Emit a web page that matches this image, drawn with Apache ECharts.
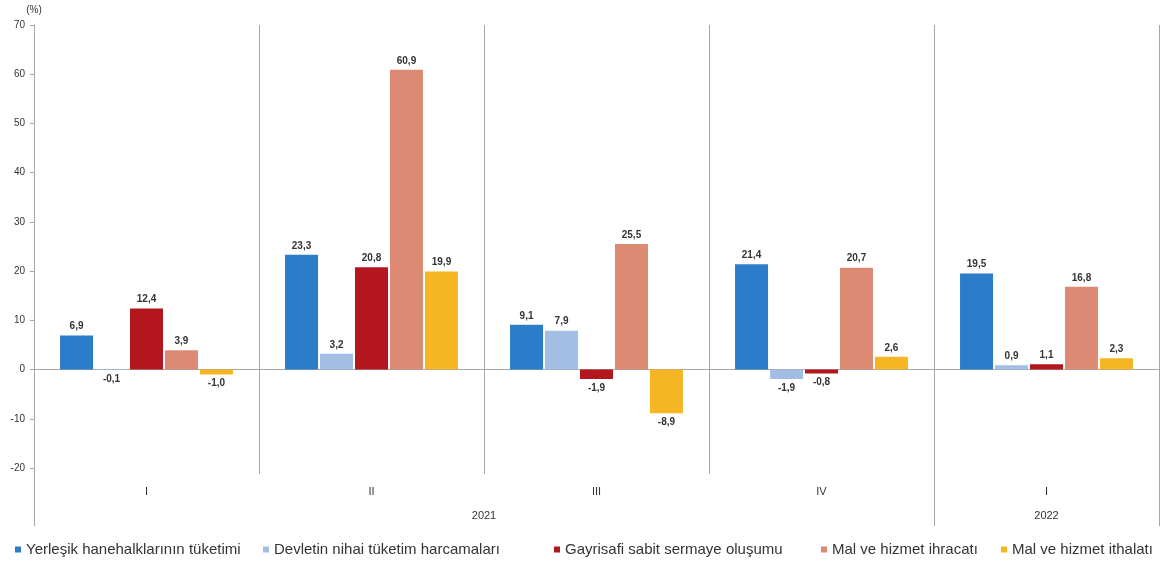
<!DOCTYPE html>
<html><head><meta charset="utf-8">
<script src="https://cdn.jsdelivr.net/npm/echarts@6/dist/echarts.min.js"></script>
<style>html,body{margin:0;padding:0;background:#fff}#c{width:1162px;height:564px}</style>
</head><body><div id="c"></div>
<script>
const quarters = ['I', 'II', 'III', 'IV', 'I'];
const years = ['2021', '2022'];
const yearSpan = [4, 1];
const seriesNames = ['Yerleşik hanehalklarının tüketimi', 'Devletin nihai tüketim harcamaları', 'Gayrisafi sabit sermaye oluşumu', 'Mal ve hizmet ihracatı', 'Mal ve hizmet ithalatı'];
const hanehalki = [6.9, 23.3, 9.1, 21.4, 19.5];
const devlet = [-0.1, 3.2, 7.9, -1.9, 0.9];
const gsso = [12.4, 20.8, -1.9, -0.8, 1.1];
const ihracat = [3.9, 60.9, 25.5, 20.7, 16.8];
const ithalat = [-1.0, 19.9, -8.9, 2.6, 2.3];
const yTicks = [-20, 70, 10];

const colors = ['#2b7cc9', '#a2bee4', '#b3161d', '#dd8a74', '#f6b523'];
const values = [hanehalki, devlet, gsso, ihracat, ithalat];
const legendLeft = [10, 258, 549, 816, 996];

// year axis built from years/yearSpan: half-category points
const yearAxisData = [];
const yearTickIdx = [0];
let pos = 0;
const totalHalf = quarters.length * 2;
for (let i = 0; i <= totalHalf; i++) yearAxisData.push('');
years.forEach((y, i) => {
  yearAxisData[pos + yearSpan[i]] = y;
  pos += yearSpan[i] * 2;
  yearTickIdx.push(pos);
});

const chart = echarts.init(document.getElementById('c'));
const font = 'Liberation Sans, Arial, sans-serif';
chart.setOption({
  animation: false,
  textStyle: { fontFamily: font },
  grid: { left: 34, right: 2, top: 25, bottom: 96 },
  legend: seriesNames.map((n, i) => ({
    data: [n], left: legendLeft[i], top: 537, icon: 'rect', itemWidth: 6, itemHeight: 6, itemGap: 5,
    textStyle: { fontSize: 15, color: '#333', fontFamily: font }
  })),
  xAxis: [
    { type: 'category', data: quarters, axisLine: { onZero: true, lineStyle: { color: '#a6a6a6' } },
      axisTick: { show: false }, axisLabel: { show: false },
      splitLine: { show: true, interval: 0, lineStyle: { color: '#a6a6a6' } } },
    { type: 'category', data: quarters, position: 'bottom', axisLine: { show: false, onZero: false },
      axisTick: { show: true, interval: 0, length: 6, lineStyle: { color: '#a6a6a6' } },
      axisLabel: { interval: 0, margin: 18, fontSize: 11, color: '#333' } },
    { type: 'category', data: yearAxisData, boundaryGap: false, position: 'bottom', axisLine: { show: false, onZero: false },
      axisTick: { show: true, length: 58, interval: (idx) => yearTickIdx.indexOf(idx) >= 0, lineStyle: { color: '#a6a6a6' } },
      axisLabel: { interval: 0, margin: 42, fontSize: 11, color: '#333' } }
  ],
  yAxis: {
    type: 'value', min: yTicks[0], max: yTicks[1], interval: yTicks[2],
    name: '(%)', nameGap: 10, nameTextStyle: { fontSize: 10, color: '#333' },
    axisLine: { show: true, lineStyle: { color: '#a6a6a6' } },
    axisTick: { show: true, length: 4, lineStyle: { color: '#a6a6a6' } },
    axisLabel: { fontSize: 10, color: '#333', margin: 9 },
    splitLine: { show: false }
  },
  series: seriesNames.map((n, i) => ({
    name: n, type: 'bar', xAxisIndex: 0, barWidth: 33, barGap: '6%',
    itemStyle: { color: colors[i] },
    data: values[i].map(v => ({ value: v, label: { position: v < 0 ? 'bottom' : 'top' } })),
    label: { show: true, distance: 4, fontSize: 10, fontWeight: 'bold', color: '#333',
      formatter: p => p.value.toFixed(1).replace('.', ',') }
  }))
});
</script></body></html>
